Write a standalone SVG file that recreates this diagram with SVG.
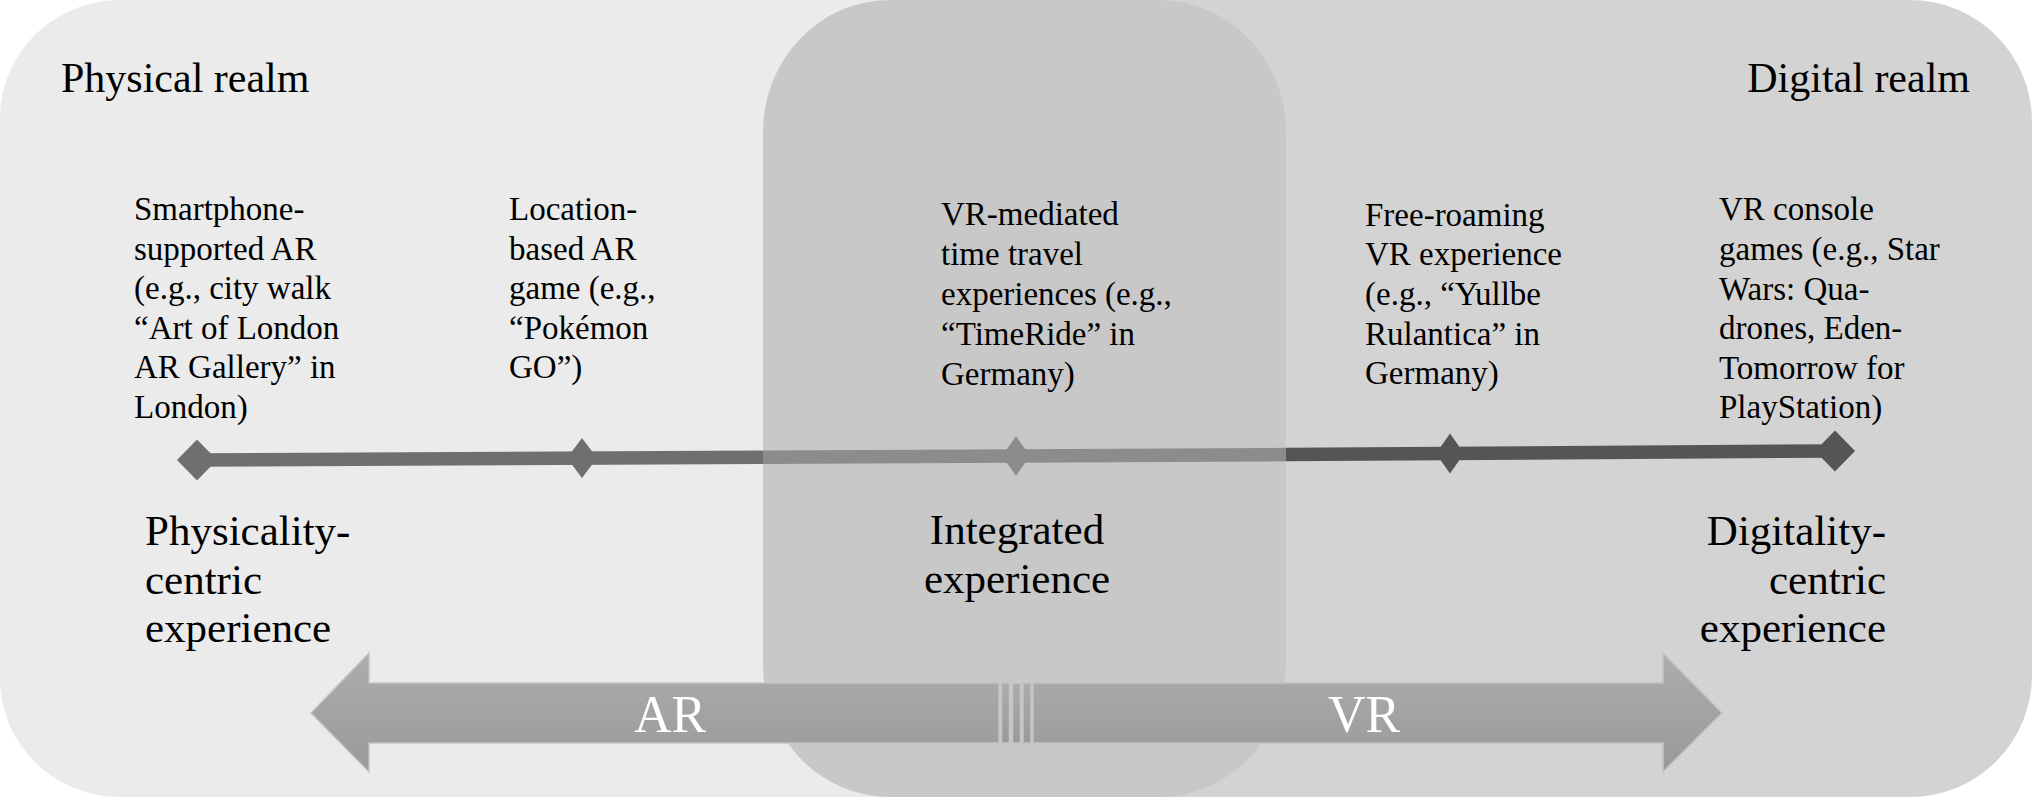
<svg xmlns="http://www.w3.org/2000/svg" width="2032" height="797" viewBox="0 0 2032 797">
<defs>
<linearGradient id="ag" x1="0" y1="0" x2="0" y2="1">
<stop offset="0" stop-color="#adadad"/>
<stop offset="1" stop-color="#999999"/>
</linearGradient>
<style>
text{font-family:"Liberation Serif","Times New Roman",serif;fill:#000}
.realm{font-size:42px}
.item{font-size:33px}
.lab{font-size:43px}
.big{font-size:52px;fill:#fff;text-anchor:middle}
.arr{fill:url(#ag);stroke:#c4c4c4;stroke-width:1.5}
</style>
</defs>
<rect width="2032" height="797" fill="#fff"/>
<g id="physical-realm">
<rect x="0" y="0" width="1100" height="797" rx="120" ry="118" fill="#ebebeb"/>
<text class="realm" x="61" y="92">Physical realm</text>
</g>
<g id="digital-realm">
<rect x="900" y="0" width="1132" height="797" rx="122" ry="122" fill="#d3d3d3"/>
<text class="realm" x="1970" y="92" text-anchor="end">Digital realm</text>
</g>
<g id="integrated-zone">
<rect x="763" y="0" width="523" height="797" rx="127" ry="132" fill="#c8c8c8"/>
</g>
<g id="connectors">
<line x1="197" y1="460" x2="763" y2="457.2" stroke="#6f6f6f" stroke-width="13.5"/>
<line x1="763" y1="457.2" x2="1286" y2="454.6" stroke="#8c8c8c" stroke-width="13.5"/>
<line x1="1286" y1="454.6" x2="1835" y2="451" stroke="#555555" stroke-width="13.5"/>
</g>
<g id="n1">
<polygon points="177,460 197,439.5 217,460 197,480.5" fill="#6f6f6f"/>
<text class="item" x="134"><tspan x="134" y="220">Smartphone-</tspan><tspan x="134" y="259.6">supported AR</tspan><tspan x="134" y="299">(e.g., city walk</tspan><tspan x="134" y="338.6">“Art of London</tspan><tspan x="134" y="378.2">AR Gallery” in</tspan><tspan x="134" y="418">London)</tspan></text>
</g>
<g id="n2">
<polygon points="567,458 582,438 597,458 582,478" fill="#6f6f6f"/>
<text class="item"><tspan x="509" y="220">Location-</tspan><tspan x="509" y="259.6">based AR</tspan><tspan x="509" y="299">game (e.g.,</tspan><tspan x="509" y="338.6">“Pokémon</tspan><tspan x="509" y="378.2">GO”)</tspan></text>
</g>
<g id="n3">
<polygon points="1002,456 1016,436 1030,456 1016,476" fill="#8c8c8c"/>
<text class="item"><tspan x="941" y="225">VR-mediated</tspan><tspan x="941" y="265">time travel</tspan><tspan x="941" y="305">experiences (e.g.,</tspan><tspan x="941" y="345">“TimeRide” in</tspan><tspan x="941" y="385">Germany)</tspan></text>
</g>
<g id="n4">
<polygon points="1436,453.6 1450,433.6 1464,453.6 1450,473.6" fill="#555555"/>
<text class="item"><tspan x="1365" y="226">Free-roaming</tspan><tspan x="1365" y="265">VR experience</tspan><tspan x="1365" y="305">(e.g., “Yullbe</tspan><tspan x="1365" y="345">Rulantica” in</tspan><tspan x="1365" y="384">Germany)</tspan></text>
</g>
<g id="n5">
<polygon points="1815,451 1835,430.5 1855,451 1835,471.5" fill="#555555"/>
<text class="item"><tspan x="1719" y="220">VR console</tspan><tspan x="1719" y="260">games (e.g., Star</tspan><tspan x="1719" y="299.6">Wars: Qua-</tspan><tspan x="1719" y="339.2">drones, Eden-</tspan><tspan x="1719" y="379">Tomorrow for</tspan><tspan x="1719" y="418">PlayStation)</tspan></text>
</g>
<g id="label-physicality">
<text class="lab"><tspan x="145" y="545">Physicality-</tspan><tspan x="145" y="594">centric</tspan><tspan x="145" y="642">experience</tspan></text>
</g>
<g id="label-integrated">
<text class="lab" text-anchor="middle"><tspan x="1017" y="544">Integrated</tspan><tspan x="1017" y="593">experience</tspan></text>
</g>
<g id="label-digitality">
<text class="lab" text-anchor="end"><tspan x="1886" y="545">Digitality-</tspan><tspan x="1886" y="594">centric</tspan><tspan x="1886" y="642">experience</tspan></text>
</g>
<g id="ar-arrow">
<polygon class="arr" points="999,683 369,683 369,653 311,713 369,772 369,743 999,743"/>
<text class="big" x="670" y="732">AR</text>
</g>
<g id="separators">
<rect class="arr" x="1001.5" y="683" width="8" height="60"/>
<rect class="arr" x="1012.5" y="683" width="8" height="60"/>
<rect class="arr" x="1023" y="683" width="8" height="60"/>
</g>
<g id="vr-arrow">
<polygon class="arr" points="1033,683 1663,683 1663,653 1722,713 1663,772 1663,743 1033,743"/>
<text class="big" x="1364" y="732">VR</text>
</g>
</svg>
